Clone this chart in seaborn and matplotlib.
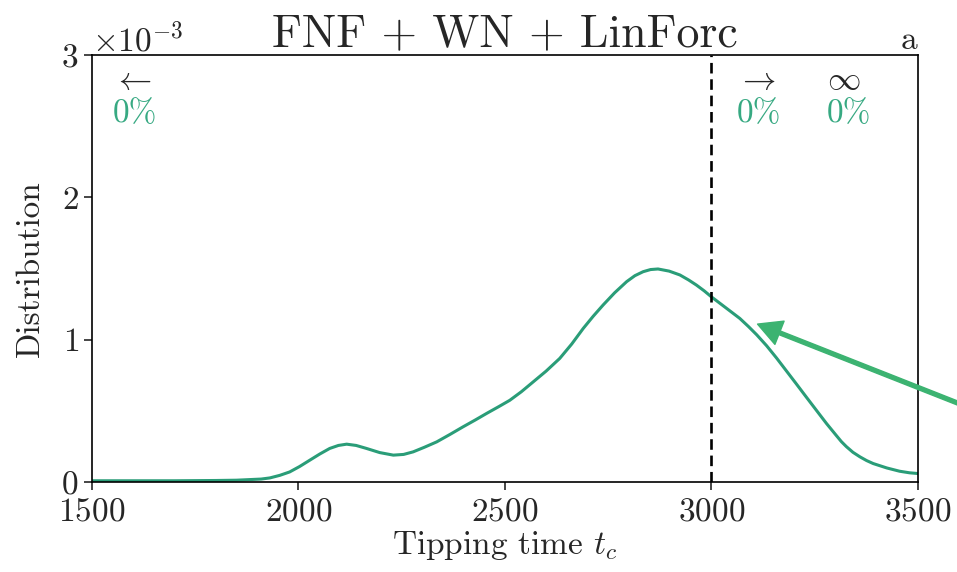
import numpy as np
import pandas as pd
import matplotlib
matplotlib.use("Agg")
import matplotlib.pyplot as plt
import seaborn as sns

# tipping time density (units of 1e-3)
tip_time = [1500, 1600, 1700, 1750, 1800, 1850, 1880, 1910, 1931, 1955,
            1979, 2003, 2028, 2052, 2076, 2097, 2117, 2140, 2165, 2197,
            2230, 2255, 2278, 2305, 2335, 2367, 2399, 2428, 2456, 2485,
            2512, 2540, 2569, 2600, 2633, 2662, 2690, 2714, 2738, 2766,
            2795, 2815, 2835, 2853, 2871, 2898, 2924, 2945, 2964, 2983,
            3000, 3035, 3069, 3090, 3110, 3134, 3158, 3182, 3206, 3230,
            3255, 3279, 3303, 3315, 3327, 3343, 3360, 3376, 3392, 3425,
            3456, 3480, 3500]
density_e3 = [0.01, 0.01, 0.01, 0.011, 0.012, 0.014, 0.018, 0.022, 0.03, 0.048,
              0.072, 0.11, 0.155, 0.198, 0.237, 0.258, 0.267, 0.258, 0.237, 0.208,
              0.19, 0.195, 0.213, 0.245, 0.283, 0.335, 0.389, 0.436, 0.483, 0.53,
              0.575, 0.635, 0.705, 0.78, 0.869, 0.97, 1.08, 1.165, 1.244, 1.33,
              1.408, 1.45, 1.478, 1.493, 1.497, 1.482, 1.455, 1.42, 1.384, 1.343,
              1.302, 1.225, 1.15, 1.093, 1.035, 0.958, 0.872, 0.781, 0.69, 0.598,
              0.503, 0.412, 0.327, 0.285, 0.25, 0.21, 0.178, 0.152, 0.131, 0.10,
              0.077, 0.066, 0.061]
x_ticks = [1500, 2000, 2500, 3000, 3500]
y_ticks = [0, 0.001, 0.002, 0.003]
t_crit = 3000
pct_labels = ["0%", "0%", "0%"]

df = pd.DataFrame({"t": tip_time, "d": np.array(density_e3) * 1e-3})

sns.set_style("ticks")
plt.rcParams['font.family'] = 'serif'
plt.rcParams['font.serif'] = ['cmr10']
plt.rcParams['mathtext.fontset'] = 'cm'
plt.rcParams['axes.formatter.use_mathtext'] = True
plt.rcParams['axes.unicode_minus'] = True

curve_col = '#2a9d78'
text_col = '#37a982'
arrow_col = '#3cb371'

fig = plt.figure(figsize=(9.57, 5.72), dpi=100)
ax = fig.add_axes([0.096, 0.157, 0.863, 0.747])

sns.lineplot(data=df, x="t", y="d", color=curve_col, lw=2.2, ax=ax)
ax.axvline(t_crit, color='black', ls='--', lw=1.9, dashes=(4, 2.2))

ax.set_xlim(1500, 3500)
ax.set_ylim(0, 0.003)
ax.set_xticks(x_ticks)
ax.set_yticks(y_ticks)
ax.ticklabel_format(axis='y', style='sci', scilimits=(0, 0))
ax.tick_params(labelsize=24, width=1.2, length=6)
ax.tick_params(axis='x', pad=5)
ax.yaxis.get_offset_text().set_fontsize(24)
for s in ax.spines.values():
    s.set_linewidth(1.2)
    s.set_color('black')

ax.set_xlabel("Tipping time $t_c$", fontsize=24, labelpad=2)
ax.set_ylabel("Distribution", fontsize=24, labelpad=12)
ax.set_title("FNF + WN + LinForc", fontsize=33, pad=6)
ax.text(1.0, 1.0, "a", transform=ax.transAxes, ha='right', va='bottom', fontsize=24)

sym = [r"$\leftarrow$", r"$\rightarrow$", r"$\infty$"]
xpos = [0.025, 0.781, 0.89]
for s, xp, p in zip(sym, xpos, pct_labels):
    ax.text(xp, 0.94, s, transform=ax.transAxes, ha='left', va='center', fontsize=24)
    ax.text(xp, 0.862, p, transform=ax.transAxes, ha='left', va='center',
            fontsize=24, color=text_col)

ax.annotate("", xy=(3112, 0.00111), xytext=(3750, 0.00038),
            arrowprops=dict(facecolor=arrow_col, edgecolor=arrow_col,
                            width=2.8, headwidth=18, headlength=17, shrink=0),
            annotation_clip=False)

fig.savefig("out.png", dpi=100)
